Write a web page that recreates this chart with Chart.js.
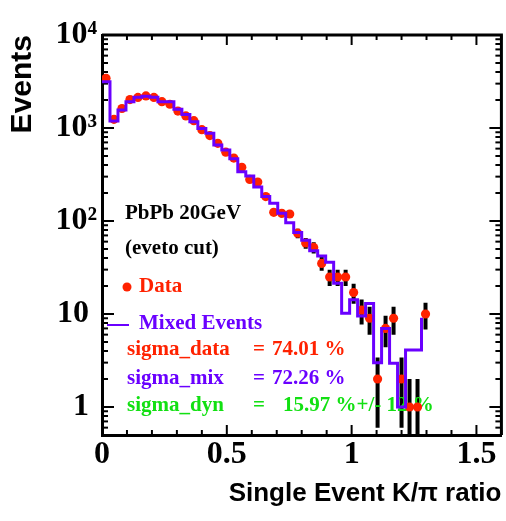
<!DOCTYPE html>
<html><head><meta charset="utf-8">
<script src="https://cdn.jsdelivr.net/npm/chart.js@4/dist/chart.umd.min.js"></script>
<style>html,body{margin:0;padding:0;background:#fff;}#wrap{width:506px;height:521px;}</style>
</head><body><div id="wrap"><canvas id="c" width="506" height="521"></canvas></div>
<script>
// ---- histogram binning (x categories): 50 bins from 0 to 1.6 ----
const binEdges = [0, 0.032, 0.064, 0.096, 0.128, 0.16, 0.192, 0.224, 0.256, 0.288,
  0.32, 0.352, 0.384, 0.416, 0.448, 0.48, 0.512, 0.544, 0.576, 0.608,
  0.64, 0.672, 0.704, 0.736, 0.768, 0.8, 0.832, 0.864, 0.896, 0.928,
  0.96, 0.992, 1.024, 1.056, 1.088, 1.12, 1.152, 1.184, 1.216, 1.248,
  1.28, 1.312, 1.344, 1.376, 1.408, 1.44, 1.472, 1.504, 1.536, 1.568, 1.6];

// ---- series: Data (red points) ----
const dataCounts = [3420, 1240, 1620, 2020, 2130, 2210, 2130, 1920, 1800, 1520,
  1350, 1200, 960, 830, 685, 550, 475, 378, 280, 262,
  183, 124, 121, 119, 74, 58, 52, 35, 25, 25,
  25, 17, 11, 9, 2, 7, 9, 2, 1, 1,
  10, 0, 0, 0, 0, 0, 0, 0, 0, 0];
const dataErrors = [58, 35, 40, 45, 46, 47, 46, 44, 42, 39,
  37, 35, 31, 29, 26, 23, 22, 19, 17, 16,
  14, 11, 11, 11, 8.6, 7.6, 7.2, 5.9, 5, 5,
  5, 4.1, 3.3, 3, 1.4, 2.6, 3, 1.4, 1, 1,
  3.2, 0, 0, 0, 0, 0, 0, 0, 0, 0];

// ---- series: Mixed Events (purple histogram) ----
const mixedCounts = [3150, 1190, 1560, 1920, 2140, 2200, 2140, 1920, 1920, 1590,
  1400, 1170, 990, 877, 656, 580, 468, 339, 305, 232,
  183, 155, 121, 96, 75, 62, 48, 42, 36, 21.4,
  10.2, 14.2, 9.5, 13, 3.0, 7.0, 2.95, 1.0, 4.1, 4.1,
  9.1, 0, 0, 0, 0, 0, 0, 0, 0, 0];

// ---- tick labels ----
const xTickValues = [0, 0.5, 1, 1.5];
const xTickLabels = ['0', '0.5', '1', '1.5'];
const xMinorStep = 0.1;
const yTickValues = [1, 10, 100, 1000, 10000];
const yTickLabels = ['1 ', '10 ', '10\u00B2', '10\u00B3', '10\u2074'];

// ---- annotation texts ----
const infoLines = ['PbPb 20GeV', '(eveto cut)'];
const legendLabels = ['Data', 'Mixed Events'];
const sigmaNames = ['sigma_data', 'sigma_mix', 'sigma_dyn'];
const sigmaValues = ['74.01 %', '72.26 %', '15.97 %+/- 12 %'];

const RED = '#ff2200', PURPLE = '#6a00ff', GREEN = '#12e012';
const SERIF = "'Liberation Serif', 'Times New Roman', serif";
const SANS = "'Liberation Sans', Arial, sans-serif";

const xMin = binEdges[0], xMax = binEdges[binEdges.length - 1];
const dataPts = [];
dataCounts.forEach((v, i) => {
  if (v > 0) dataPts.push({x: (binEdges[i] + binEdges[i + 1]) / 2, y: v, e: dataErrors[i]});
});
const mixedPts = mixedCounts.map((v, i) => ({x: binEdges[i], y: v}));
mixedPts.push({x: xMax, y: mixedCounts[mixedCounts.length - 1]});

const near = (a, b) => Math.abs(a - b) < 1e-6;

const errorBars = {
  id: 'errorBars',
  beforeDatasetsDraw(chart) {
    const {ctx, chartArea: a, scales: {x, y}} = chart;
    ctx.save();
    ctx.beginPath(); ctx.rect(a.left, a.top, a.right - a.left, a.bottom - a.top); ctx.clip();
    ctx.strokeStyle = '#000'; ctx.lineWidth = 4; ctx.lineCap = 'butt';
    dataPts.forEach(p => {
      const px = x.getPixelForValue(p.x);
      const lo = Math.max(p.y - p.e, y.min);
      ctx.beginPath();
      ctx.moveTo(px, y.getPixelForValue(p.y + p.e));
      ctx.lineTo(px, y.getPixelForValue(lo));
      ctx.stroke();
    });
    ctx.restore();
  }
};

const frame = {
  id: 'frame',
  beforeDatasetsDraw(chart) {
    const {ctx, chartArea: a, scales: {x, y}} = chart;
    ctx.save();
    ctx.strokeStyle = '#000';
    ctx.lineWidth = 3;
    ctx.beginPath();
    ctx.moveTo(a.left, a.top); ctx.lineTo(a.right, a.top); ctx.lineTo(a.right, a.bottom);
    ctx.stroke();
    ctx.lineWidth = 2;
    const seg = (x1, y1, x2, y2) => { ctx.beginPath(); ctx.moveTo(x1, y1); ctx.lineTo(x2, y2); ctx.stroke(); };
    const nx = Math.round((xMax - xMin) / xMinorStep);
    for (let k = 0; k <= nx; k++) {
      const v = xMin + k * xMinorStep;
      const px = x.getPixelForValue(v);
      const major = xTickValues.some(t => near(t, v));
      const len = major ? 10 : 5;
      seg(px, a.bottom, px, a.bottom - len);
      seg(px, a.top, px, a.top + len);
    }
    const ticksY = [];
    const d0 = Math.floor(Math.log10(y.min)), d1 = Math.ceil(Math.log10(y.max));
    for (let d = d0; d <= d1; d++) {
      for (let m = 1; m <= 9; m++) {
        const v = m * Math.pow(10, d);
        if (v >= y.min * 0.999 && v <= y.max * 1.001) ticksY.push({v, major: m === 1});
      }
    }
    ticksY.forEach(t => {
      const py = y.getPixelForValue(t.v);
      const len = t.major ? 12 : 6;
      seg(a.left, py, a.left + len, py);
      seg(a.right, py, a.right - len, py);
    });
    ctx.restore();
  }
};

const notes = {
  id: 'notes',
  beforeDatasetsDraw(chart) {
    const {ctx, chartArea: a} = chart;
    const L = a.left, T = a.top;
    ctx.save();
    ctx.textBaseline = 'alphabetic';
    ctx.textAlign = 'left';
    ctx.font = 'bold 21px ' + SERIF;
    ctx.fillStyle = '#000';
    ctx.fillText(infoLines[0], L + 23, T + 184);
    ctx.fillText(infoLines[1], L + 23, T + 219);
    ctx.fillStyle = RED;
    ctx.beginPath(); ctx.arc(L + 25, T + 252, 4.5, 0, Math.PI * 2); ctx.fill();
    ctx.fillText(legendLabels[0], L + 37, T + 257);
    ctx.strokeStyle = PURPLE; ctx.lineWidth = 2;
    ctx.beginPath(); ctx.moveTo(L + 5, T + 290); ctx.lineTo(L + 27, T + 290); ctx.stroke();
    ctx.fillStyle = PURPLE;
    ctx.fillText(legendLabels[1], L + 37, T + 294);
    const cols = [RED, PURPLE, GREEN];
    const ys = [T + 320, T + 349, T + 376];
    const vx = [L + 170, L + 170, L + 181];
    for (let i = 0; i < 3; i++) {
      ctx.fillStyle = cols[i];
      ctx.fillText(sigmaNames[i], L + 25, ys[i]);
      ctx.fillText('=', L + 151, ys[i]);
      ctx.fillText(sigmaValues[i], vx[i], ys[i]);
    }
    ctx.restore();
  }
};

new Chart(document.getElementById('c'), {
  type: 'scatter',
  data: {
    datasets: [
      {type: 'line', label: legendLabels[1], data: mixedPts, stepped: 'before',
       borderColor: PURPLE, borderWidth: 3, pointRadius: 0, fill: false, clip: 5, order: 0},
      {type: 'scatter', label: legendLabels[0], data: dataPts, pointRadius: 4.6,
       pointBackgroundColor: RED, backgroundColor: RED, borderWidth: 0, pointBorderWidth: 0, order: 1}
    ]
  },
  options: {
    responsive: false, animation: false, devicePixelRatio: 1,
    layout: {padding: {top: 35, right: 3, left: 0, bottom: 0}},
    plugins: {legend: {display: false}, tooltip: {enabled: false}},
    scales: {
      x: {
        type: 'linear', min: xMin, max: xMax,
        afterBuildTicks: s => { s.ticks = xTickValues.map(v => ({value: v})); },
        afterFit: s => { s.height = 86; },
        ticks: {
          autoSkip: false, maxRotation: 0, padding: 1, color: '#000',
          font: {family: SERIF, size: 32, weight: 'bold'},
          callback: (v) => { const i = xTickValues.findIndex(t => near(t, v)); return i >= 0 ? xTickLabels[i] : ''; }
        },
        grid: {display: true, drawOnChartArea: false, drawTicks: false},
        border: {display: true, width: 3, color: '#000'},
        title: {display: true, text: 'Single Event K/\u03C0 ratio', align: 'end', color: '#000',
          font: {family: SANS, size: 26, weight: 'bold'}, padding: {top: 0, bottom: 12}}
      },
      y: {
        type: 'logarithmic', min: 0.5, max: 10000,
        afterBuildTicks: s => { s.ticks = yTickValues.map(v => ({value: v, major: true})); },
        afterFit: s => { s.width = 102; },
        ticks: {
          autoSkip: false, padding: 5, color: '#000',
          font: {family: SERIF, size: 32, weight: 'bold'},
          callback: (v) => { const i = yTickValues.findIndex(t => Math.abs(t - v) / t < 1e-6); return i >= 0 ? yTickLabels[i] : ''; }
        },
        grid: {display: true, drawOnChartArea: false, drawTicks: false},
        border: {display: true, width: 3, color: '#000'},
        title: {display: true, text: 'Events', align: 'end', color: '#000',
          font: {family: SANS, size: 30, weight: 'bold'}, padding: {top: 5, bottom: 0}}
      }
    }
  },
  plugins: [errorBars, frame, notes]
});
</script></body></html>
